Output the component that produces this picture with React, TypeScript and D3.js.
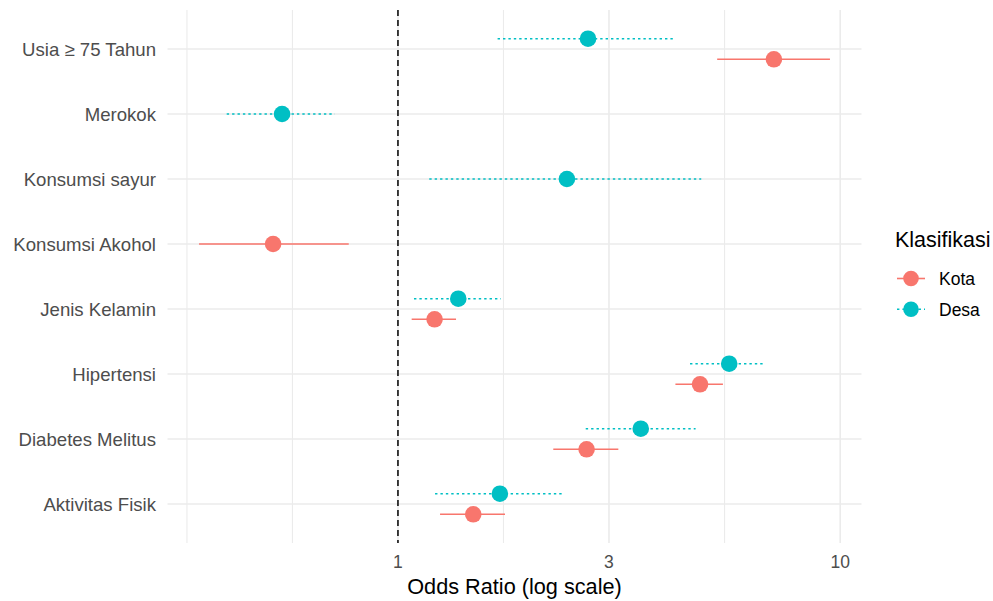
import React from "react";
import * as d3 from "d3";

const categories = [
  "Usia ≥ 75 Tahun",
  "Merokok",
  "Konsumsi sayur",
  "Konsumsi Akohol",
  "Jenis Kelamin",
  "Hipertensi",
  "Diabetes Melitus",
  "Aktivitas Fisik",
];

const groups = ["Kota", "Desa"];
const groupColors = ["#F8766D", "#00BFC4"];

// Kota (urban) estimates
const kotaFactor = ["Usia ≥ 75 Tahun", "Konsumsi Akohol", "Jenis Kelamin", "Hipertensi", "Diabetes Melitus", "Aktivitas Fisik"];
const kotaOR = [7.08, 0.522, 1.21, 4.82, 2.67, 1.48];
const kotaLow = [5.27, 0.355, 1.074, 4.24, 2.245, 1.245];
const kotaHigh = [9.48, 0.774, 1.353, 5.43, 3.15, 1.746];

// Desa (rural) estimates
const desaFactor = ["Usia ≥ 75 Tahun", "Merokok", "Konsumsi sayur", "Jenis Kelamin", "Hipertensi", "Diabetes Melitus", "Aktivitas Fisik"];
const desaOR = [2.69, 0.547, 2.41, 1.369, 5.61, 3.54, 1.70];
const desaLow = [1.68, 0.41, 1.177, 1.087, 4.575, 2.658, 1.213];
const desaHigh = [4.21, 0.72, 4.85, 1.709, 6.76, 4.71, 2.373];

const xTicks = [1, 3, 10];
const xMinor = [1 / 3, Math.sqrt(1 / 3), Math.sqrt(3), Math.sqrt(30)];

type Row = { factor: string; group: number; or: number; lo: number; hi: number };

const rows: Row[] = [
  ...kotaFactor.map((f, i) => ({ factor: f, group: 0, or: kotaOR[i], lo: kotaLow[i], hi: kotaHigh[i] })),
  ...desaFactor.map((f, i) => ({ factor: f, group: 1, or: desaOR[i], lo: desaLow[i], hi: desaHigh[i] })),
];

export default function App() {
  const W = 993;
  const H = 601;
  const left = 167.5;
  const right = 861.5;
  const top = 10;
  const bottom = 543;

  const lmin = Math.log10(d3.min(rows, (r) => r.lo)!);
  const lmax = Math.log10(d3.max(rows, (r) => r.hi)!);
  const pad = (lmax - lmin) * 0.05;
  const x = d3.scaleLog().domain([Math.pow(10, lmin - pad), Math.pow(10, lmax + pad)]).range([left, right]);

  const y = d3.scalePoint<string>().domain(categories).range([top, bottom]).padding(0.6);
  const step = y.step();
  const dodge = step * 0.158;
  const counts = d3.rollup(rows, (v) => v.length, (r) => r.factor);
  const yPos = (r: Row) => {
    const base = y(r.factor)!;
    if ((counts.get(r.factor) || 0) < 2) return base;
    return base + (r.group === 0 ? dodge : -dodge);
  };

  const font = "Arial, 'Liberation Sans', Helvetica, sans-serif";
  const grid = "#ebebeb";

  return (
    <svg width={W} height={H} style={{ position: "absolute", left: 0, top: 0, background: "#fff" }} fontFamily={font}>
      {/* grid */}
      {xMinor.map((v, i) => (
        <line key={"mn" + i} x1={x(v)} x2={x(v)} y1={top} y2={bottom} stroke={grid} strokeWidth={1.1} />
      ))}
      {xTicks.map((v, i) => (
        <line key={"mj" + i} x1={x(v)} x2={x(v)} y1={top} y2={bottom} stroke={grid} strokeWidth={1.6} />
      ))}
      {categories.map((c) => (
        <line key={"h" + c} x1={left} x2={right} y1={y(c)} y2={y(c)} stroke={grid} strokeWidth={1.6} />
      ))}

      {/* reference line */}
      <line x1={x(1)} x2={x(1)} y1={top} y2={bottom} stroke="#000" strokeWidth={1.5} strokeDasharray="6,4" />

      {/* CIs and points */}
      {rows.map((r, i) => (
        <g key={"r" + i}>
          <line
            x1={x(r.lo)}
            x2={x(r.hi)}
            y1={yPos(r)}
            y2={yPos(r)}
            stroke={groupColors[r.group]}
            strokeWidth={1.6}
            strokeDasharray={r.group === 1 ? "2.4,3" : undefined}
          />
          <circle cx={x(r.or)} cy={yPos(r)} r={8.3} fill={groupColors[r.group]} />
        </g>
      ))}

      {/* y labels */}
      {categories.map((c) => (
        <text key={"yl" + c} x={156} y={y(c)} dy="0.36em" textAnchor="end" fontSize={18.6} fill="#4d4d4d">
          {c}
        </text>
      ))}

      {/* x ticks */}
      {xTicks.map((v) => (
        <text key={"xt" + v} x={x(v)} y={568} textAnchor="middle" fontSize={17.5} fill="#4d4d4d">
          {d3.format("d")(v)}
        </text>
      ))}

      <text x={(left + right) / 2} y={594} textAnchor="middle" fontSize={21.7} fill="#000">
        Odds Ratio (log scale)
      </text>

      {/* legend */}
      <text x={895} y={247} fontSize={21.5} fill="#000">
        Klasifikasi
      </text>
      {groups.map((g, i) => {
        const ly = 278.5 + i * 30.7;
        return (
          <g key={"lg" + g}>
            <line
              x1={897}
              x2={925}
              y1={ly}
              y2={ly}
              stroke={groupColors[i]}
              strokeWidth={1.6}
              strokeDasharray={i === 1 ? "2.4,3" : undefined}
            />
            <circle cx={911} cy={ly} r={7.8} fill={groupColors[i]} />
            <text x={939} y={ly} dy="0.36em" fontSize={17.5} fill="#000">
              {g}
            </text>
          </g>
        );
      })}
    </svg>
  );
}
